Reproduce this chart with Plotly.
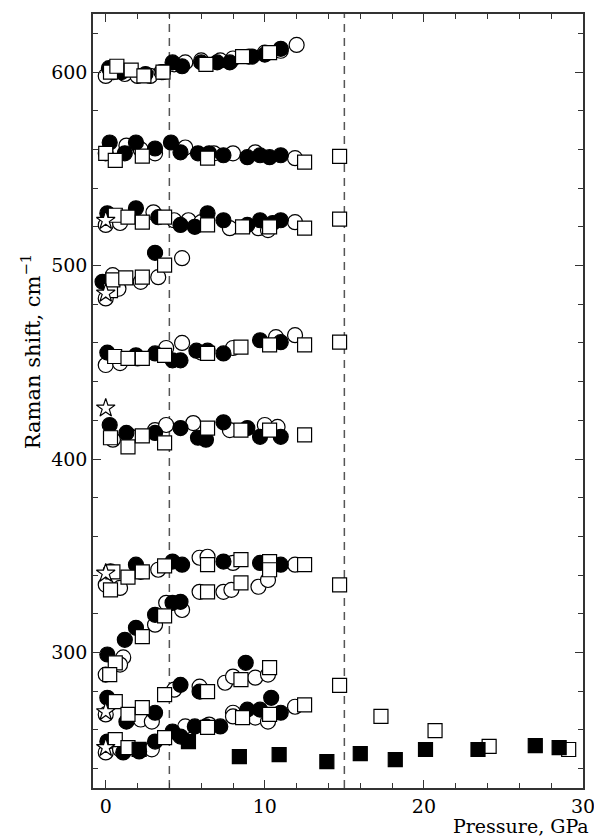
import plotly.graph_objects as go

# ---- data ----
open_circle_p = [0.0, 0.5, 1.2, 2.0, 2.8, 3.5, 4.3, 5.0, 6.0, 7.2, 8.0, 9.0, 10.0, 11.0, 12.0,
                 0.0, 1.3, 2.2, 3.1, 5.0, 6.8, 8.0, 9.4, 11.9,
                 0.0, 0.9, 3.0, 4.3, 5.2, 6.0, 7.8, 9.6, 10.2, 11.9,
                 0.0, 0.44, 0.8, 2.2, 3.3, 4.8,
                 0.0, 0.9, 2.0, 3.8, 4.8, 6.0, 8.0, 10.7, 11.9,
                 0.45, 1.5, 3.1, 3.8, 5.5, 7.8, 10.0, 10.8,
                 0.0, 0.9, 2.2, 3.3, 5.9, 6.4, 8.0, 10.3, 11.9,
                 5.9, 7.4, 7.9, 9.6, 10.2,
                 1.1, 3.1, 3.8, 4.8,
                 0.0, 0.9, 7.5, 8.0, 9.4, 10.2,
                 0.0, 2.2, 2.9, 4.3, 5.9, 8.0, 9.4, 10.2, 11.9,
                 0.0, 0.9, 2.9, 5.0, 6.5, 8.0]
open_circle_w = [598, 600, 599, 598, 598, 600, 604, 605, 606, 606, 607, 608, 610, 611, 614,
                 558, 562, 560, 558, 561, 558, 558, 558.5, 555.5,
                 521, 522, 527.5, 523.4, 523.4, 522.4, 519.3, 519.3, 518.3, 522.4,
                 483, 495, 488, 491.6, 494, 503.8,
                 448.6, 449.6, 452, 457.4, 460, 455, 457.4, 463, 464,
                 410, 412, 415, 417.6, 418.6, 415, 417.6, 416.6,
                 335, 333.4, 341.7, 342.8, 349, 349.5, 346.3, 346.3, 345.4,
                 331.4, 331.4, 332.4, 334, 337.5,
                 297.5, 314.4, 325.7, 322,
                 288.6, 293.8, 284.4, 287.6, 287, 288.6,
                 268, 265.4, 264.3, 280.8, 282.4, 268.9, 266.4, 264.3, 272,
                 248.4, 250, 250, 261.8, 262.8, 267]

filled_circle_p = [0.2, 1.0, 2.5, 3.6, 4.2, 4.8, 6.0, 7.0, 7.8, 9.2, 10.0, 11.0,
                   0.25, 1.2, 1.9, 3.1, 4.1, 4.7, 5.8, 6.5, 7.4, 8.9, 9.7, 10.3, 11.0,
                   0.1, 1.9, 3.3, 4.7, 5.6, 6.4, 7.4, 8.9, 9.7, 10.5, 11.0,
                   3.1, -0.2,
                   0.1, 1.9, 3.1, 4.2, 4.7, 5.7, 6.4, 7.4, 9.7, 11.0,
                   0.25, 1.3, 3.1, 4.7, 5.8, 6.3, 7.4, 8.9, 9.7, 11.0,
                   0.3, 1.9, 4.2, 4.8, 7.4, 9.7, 11.0,
                   0.1, 1.2, 1.9, 3.1, 4.2, 4.7,
                   8.8,
                   0.1, 1.3, 3.1, 4.7, 5.9, 8.9, 9.7, 10.4, 11.0,
                   0.1, 1.1, 2.1, 3.1, 4.2, 4.7, 5.6, 6.3, 7.2]
filled_circle_w = [602, 600, 599, 600, 605, 603, 605, 605, 605, 608, 609, 612,
                   563.6, 558, 563.6, 560.5, 563.6, 558.5, 558, 558, 557, 556, 557, 556, 557,
                   527, 529.6, 525, 521, 520, 527, 523.4, 521, 523.4, 522, 523.4,
                   506.6, 491.6,
                   455, 453.6, 454.6, 451, 451, 456, 456, 454.6, 461.4, 460.4,
                   417.6, 413.5, 413.5, 416, 411, 410, 419, 416, 411.5, 411.5,
                   342, 345.4, 347, 345.4, 347, 346.3, 345.4,
                   299, 306.6, 312.8, 319.5, 325.7, 326.2,
                   294.7,
                   276.6, 264.3, 268.9, 283.3, 279.8, 270.5, 270.5, 276.6, 268.9,
                   254, 248.4, 248.9, 254, 259.2, 256.6, 261.8, 261.8, 261.8]

open_square_p = [0.3, 0.7, 1.6, 2.4, 3.6, 6.3, 8.6, 10.3,
                 0.0, 0.6, 2.3, 6.4, 12.5, 14.7,
                 0.6, 1.4, 2.3, 3.7, 6.4, 8.6, 10.3, 12.5, 14.7,
                 0.3, 0.45, 1.26, 2.3, 3.7,
                 0.56, 1.4, 2.3, 3.7, 6.4, 8.5, 10.3, 12.5, 14.7,
                 0.3, 1.4, 2.3, 3.7, 6.4, 8.5, 10.3, 12.5,
                 0.3, 0.45, 1.4, 2.3, 3.7, 6.4, 8.5, 10.3, 10.3, 12.5, 14.7,
                 6.4, 8.5,
                 0.6, 2.3, 3.7,
                 0.25, 8.5, 10.3,
                 0.6, 1.4, 2.3, 3.7, 6.4, 8.6, 10.3, 12.5, 14.7, 17.3, 20.7, 24.1, 29.1,
                 0.6, 1.4, 3.7, 6.4]
open_square_w = [600, 603, 601, 598, 600, 604, 608, 610,
                 558, 554.4, 556.5, 555.5, 553.4, 556.4,
                 526, 525, 522.4, 525, 521, 520, 520, 519.3, 524,
                 487, 492.6, 493.6, 494, 500.2,
                 453, 452, 452, 453.6, 454.6, 457.8, 459, 459, 460.4,
                 411, 406.3, 412, 408.4, 416, 415, 415, 412.5,
                 332.4, 341.7, 339, 341.7, 344.8, 345.4, 348, 347, 342.8, 345.4, 335,
                 331.4, 336,
                 294.7, 308.2, 319,
                 288.6, 286, 292.2,
                 274.6, 268, 271.5, 278.3, 279.8, 266.4, 268, 273, 283, 267, 259.7, 251.5, 249.9,
                 255, 250.9, 256, 261.3]

filled_square_p = [2.1, 5.2, 8.4, 10.9, 13.9, 16.0, 18.2, 20.1, 23.4, 27.0, 28.5]
filled_square_w = [250, 254, 246.2, 247.2, 243.6, 247.8, 244.7, 249.9, 249.9, 251.9, 250.9]

star_p = [0, 0, 0, 0, 0, 0]
star_w = [523.3, 485.7, 426.3, 341, 269.4, 250.9]

transition_p = [4, 15]

x_ticks = [0, 10, 20, 30]
y_ticks = [300, 400, 500, 600]

# ---- figure ----
FONT = "DejaVu Serif"
fig = go.Figure()

def add(px, py, symbol, fill, size):
    fig.add_trace(go.Scatter(
        x=px, y=py, mode="markers", cliponaxis=False,
        marker=dict(symbol=symbol, size=size, color=fill,
                    line=dict(color="black", width=1.2)),
        showlegend=False))

add(open_circle_p, open_circle_w, "circle", "white", 15)
add(filled_circle_p, filled_circle_w, "circle", "black", 15)
add(open_square_p, open_square_w, "square", "white", 14)
add(star_p, star_w, "star", "white", 14)
add(filled_square_p, filled_square_w, "square", "black", 14)

for p in transition_p:
    fig.add_shape(type="line", x0=p, x1=p, y0=0, y1=1, xref="x", yref="paper",
                  line=dict(color="#555555", width=1.5, dash="8px,6px"), layer="below")

axis_common = dict(showline=True, linecolor="#333333", linewidth=1.5, mirror="ticks",
                   ticks="inside", tickcolor="#333333", tickwidth=1.2, ticklen=8,
                   showgrid=False, zeroline=False, automargin=False,
                   ticklabeloverflow="allow",
                   tickfont=dict(family=FONT, size=19, color="black"))

fig.update_xaxes(range=[-0.8, 30], tickvals=x_ticks,
                 minor=dict(dtick=2, tick0=0, ticks="inside", ticklen=5,
                            tickcolor="#333333", tickwidth=1.2),
                 **axis_common)
fig.update_yaxes(range=[230, 630], tickvals=y_ticks,
                 minor=dict(dtick=20, tick0=0, ticks="inside", ticklen=5,
                            tickcolor="#333333", tickwidth=1.2),
                 **axis_common)

fig.add_annotation(text="Pressure, GPa", xref="paper", yref="paper",
                   x=1.015, y=-0.0625, xanchor="right", yanchor="bottom", yshift=-2,
                   borderpad=0,
                   showarrow=False, font=dict(family=FONT, size=19, color="black"))
fig.add_annotation(text="Raman shift, cm<sup>−1</sup>", xref="paper", yref="paper",
                   x=0, y=0.563, xanchor="center", yanchor="middle", xshift=-62,
                   textangle=-90, showarrow=False,
                   font=dict(family=FONT, size=21, color="black"))

fig.update_layout(width=594, height=837, margin=dict(l=93, r=11, t=14, b=49),
                  plot_bgcolor="white", paper_bgcolor="white")

fig.write_html("out.html")
